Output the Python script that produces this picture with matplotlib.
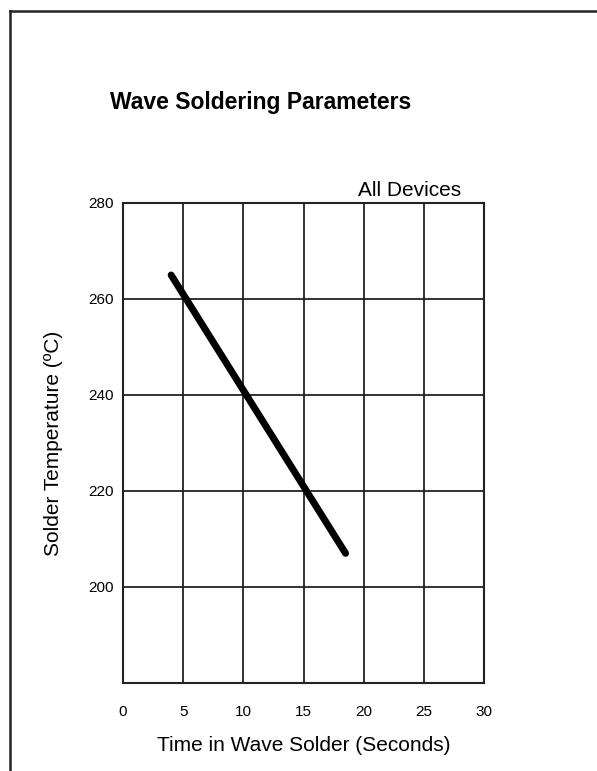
import matplotlib
matplotlib.use("Agg")
import matplotlib.pyplot as plt
from matplotlib.lines import Line2D

plt.rcParams['font.family'] = ['Liberation Sans', 'DejaVu Sans']

# data
time_s = [4, 18.5]
temp_c = [265, 207]
x_ticks = [0, 5, 10, 15, 20, 25, 30]
y_ticks = [200, 220, 240, 260, 280]

W, H = 597, 771
fig = plt.figure(figsize=(W / 100, H / 100), dpi=100)

# page frame (top and left edges only)
fig.add_artist(Line2D([10 / W, 1.0], [1 - 11 / H, 1 - 11 / H], color='#222222', lw=1.8))
fig.add_artist(Line2D([10 / W, 10 / W], [0, 1 - 11 / H], color='#222222', lw=1.8))

ax = fig.add_axes([123 / W, 88 / H, 361 / W, 480 / H])
ax.plot(time_s, temp_c, color='black', lw=5, solid_capstyle='round')

ax.set_xlim(0, 30)
ax.set_ylim(180, 280)
ax.set_xticks(x_ticks)
ax.set_yticks(y_ticks)
ax.grid(True, color='#222222', lw=1.3)
ax.set_axisbelow(True)
for s in ax.spines.values():
    s.set_color('#222222')
    s.set_linewidth(1.5)
ax.tick_params(length=0, labelsize=11, colors='black')
ax.tick_params(axis='x', pad=16)
ax.tick_params(axis='y', pad=7)

ax.set_xlabel('Time in Wave Solder (Seconds)', fontsize=15, labelpad=12)
ax.set_ylabel('Solder Temperature (ºC)', fontsize=15, labelpad=18)

fig.text(261 / W, 1 - 103 / H, 'Wave Soldering Parameters', fontsize=16.5, fontweight='bold',
         ha='center', va='center')
fig.text(410 / W, 1 - 190 / H, 'All Devices', fontsize=15, ha='center', va='center')

fig.savefig('out.png', dpi=100)
